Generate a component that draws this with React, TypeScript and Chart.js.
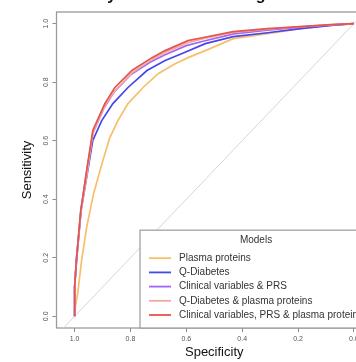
import React, { useEffect, useRef } from "react";
import { Chart, registerables } from "chart.js";

Chart.register(...registerables);

const chartTitle = "Any diabetes risk using all data";
const legendTitle = "Models";
const xAxisTitle = "Specificity";
const yAxisTitle = "Sensitivity";

const axisTicks = [0, 0.2, 0.4, 0.6, 0.8, 1.0];

const modelNames = [
  "Plasma proteins",
  "Q-Diabetes",
  "Clinical variables & PRS",
  "Q-Diabetes & plasma proteins",
  "Clinical variables, PRS & plasma proteins",
];
const modelColors = ["#F7BE6B", "#4646EE", "#A366F2", "#F4A89F", "#E2564F"];

const plasmaSpec = [1, 1, 0.989, 0.975, 0.957, 0.932, 0.899, 0.874, 0.845, 0.809, 0.755, 0.701, 0.64, 0.594, 0.532, 0.432, 0.309, 0.191, 0.08, 0];
const plasmaSens = [0, 0.02, 0.078, 0.191, 0.304, 0.42, 0.532, 0.611, 0.669, 0.727, 0.782, 0.829, 0.863, 0.884, 0.908, 0.949, 0.966, 0.983, 0.995, 1];

const qdSpec = [1, 1, 0.993, 0.977, 0.953, 0.935, 0.903, 0.863, 0.809, 0.741, 0.676, 0.615, 0.532, 0.432, 0.309, 0.191, 0.08, 0];
const qdSens = [0, 0.1, 0.191, 0.362, 0.498, 0.601, 0.669, 0.727, 0.782, 0.84, 0.874, 0.898, 0.932, 0.956, 0.969, 0.983, 0.994, 1];

const clinSpec = [1, 1, 0.994, 0.978, 0.956, 0.935, 0.895, 0.86, 0.8, 0.73, 0.68, 0.6, 0.54, 0.43, 0.31, 0.19, 0.08, 0];
const clinSens = [0, 0.1, 0.19, 0.36, 0.5, 0.625, 0.712, 0.765, 0.825, 0.868, 0.892, 0.925, 0.94, 0.965, 0.978, 0.988, 0.996, 1];

const qdPlasmaSpec = [1, 1, 0.994, 0.977, 0.955, 0.935, 0.892, 0.855, 0.795, 0.723, 0.676, 0.594, 0.543, 0.432, 0.309, 0.191, 0.08, 0];
const qdPlasmaSens = [0, 0.1, 0.19, 0.36, 0.49, 0.625, 0.72, 0.772, 0.832, 0.878, 0.902, 0.935, 0.948, 0.97, 0.981, 0.99, 0.997, 1];

const allSpec = [1, 1, 0.994, 0.978, 0.957, 0.935, 0.892, 0.856, 0.795, 0.723, 0.676, 0.594, 0.543, 0.432, 0.309, 0.191, 0.08, 0];
const allSens = [0, 0.1, 0.191, 0.362, 0.498, 0.635, 0.727, 0.782, 0.84, 0.884, 0.908, 0.942, 0.952, 0.973, 0.983, 0.99, 0.997, 1];

const chanceSpec = [1.2, -0.2];
const chanceSens = [-0.2, 1.2];

const modelSpecs = [plasmaSpec, qdSpec, clinSpec, qdPlasmaSpec, allSpec];
const modelSens = [plasmaSens, qdSens, clinSens, qdPlasmaSens, allSens];

const FONT = "'Liberation Sans', Arial, Helvetica, sans-serif";

const toPoints = (xs: number[], ys: number[]) => xs.map((x, i) => ({ x, y: ys[i] }));

const boxPlugin = {
  id: "boxPlugin",
  beforeDatasetsDraw(chart: any) {
    const { ctx, chartArea } = chart;
    ctx.save();
    ctx.strokeStyle = "#9a9a9a";
    ctx.lineWidth = 1.3;
    ctx.strokeRect(chartArea.left, chartArea.top, chartArea.right - chartArea.left, chartArea.bottom - chartArea.top);
    ctx.restore();
  },
};

const legendPlugin = {
  id: "legendBox",
  afterDatasetsDraw(chart: any) {
    const { ctx, chartArea } = chart;
    ctx.save();
    ctx.font = `10px ${FONT}`;
    let maxW = 0;
    modelNames.forEach((n) => (maxW = Math.max(maxW, ctx.measureText(n).width)));
    const boxW = 39 + maxW + 9;
    const right = chartArea.right;
    const bottom = chartArea.bottom;
    const left = right - boxW;
    const rowH = 14.2;
    const firstRow = bottom - 13 - rowH * (modelNames.length - 1);
    const titleY = firstRow - 18;
    const top = titleY - 10;
    ctx.fillStyle = "#ffffff";
    ctx.fillRect(left, top, boxW, bottom - top);
    ctx.strokeStyle = "#9a9a9a";
    ctx.lineWidth = 1.2;
    ctx.strokeRect(left, top, boxW, bottom - top);
    ctx.fillStyle = "#333";
    ctx.textBaseline = "middle";
    ctx.textAlign = "center";
    ctx.fillText(legendTitle, (left + right) / 2, titleY);
    ctx.textAlign = "left";
    modelNames.forEach((n, i) => {
      const y = firstRow + i * rowH;
      ctx.strokeStyle = modelColors[i];
      ctx.lineWidth = 1.8;
      ctx.beginPath();
      ctx.moveTo(left + 9, y);
      ctx.lineTo(left + 31, y);
      ctx.stroke();
      ctx.fillStyle = "#333";
      ctx.fillText(n, left + 39, y);
    });
    ctx.restore();
  },
};

const titlePlugin = {
  id: "cutTitle",
  afterDraw(chart: any) {
    const { ctx } = chart;
    ctx.save();
    ctx.font = `bold 16px ${FONT}`;
    ctx.fillStyle = "#111";
    ctx.textAlign = "left";
    ctx.textBaseline = "alphabetic";
    ctx.fillText(chartTitle, 86, 0);
    ctx.restore();
  },
};

export default function App() {
  const ref = useRef<HTMLCanvasElement | null>(null);
  useEffect(() => {
    if (!ref.current) return;
    const datasets: any[] = modelNames.map((name, i) => ({
      label: name,
      data: toPoints(modelSpecs[i], modelSens[i]),
      borderColor: modelColors[i],
      backgroundColor: modelColors[i],
      borderWidth: 1.7,
      pointRadius: 0,
      showLine: true,
      tension: 0,
      order: modelNames.length - i,
    }));
    datasets.push({
      label: "chance",
      data: toPoints(chanceSpec, chanceSens),
      borderColor: "#d6d6d6",
      borderWidth: 1,
      pointRadius: 0,
      showLine: true,
      order: 20,
    });
    const chart = new Chart(ref.current, {
      type: "scatter",
      data: { datasets },
      options: {
        animation: false,
        responsive: false,
        devicePixelRatio: 1,
        layout: { padding: { top: 12, right: 8, left: 0, bottom: 0 } },
        plugins: { legend: { display: false }, tooltip: { enabled: false } },
        scales: {
          x: {
            type: "linear",
            reverse: true,
            min: -0.065,
            max: 1.065,
            afterBuildTicks: (s: any) => {
              s.ticks = axisTicks.map((v) => ({ value: v }));
            },
            afterFit: (s: any) => {
              s.height = 34;
            },
            border: { display: false },
            grid: { drawOnChartArea: false, drawTicks: true, tickLength: 4, color: "#8a8a8a", lineWidth: 1 },
            ticks: {
              callback: (v: any) => Number(v).toFixed(1),
              font: { size: 7, family: FONT },
              color: "#555",
              padding: 3,
              maxRotation: 0,
              minRotation: 0,
            },
            title: { display: true, text: xAxisTitle, font: { size: 13, family: FONT }, color: "#111", padding: { top: 0, bottom: 1.5 } },
          },
          y: {
            type: "linear",
            min: -0.04,
            max: 1.04,
            afterBuildTicks: (s: any) => {
              s.ticks = axisTicks.map((v) => ({ value: v }));
            },
            afterFit: (s: any) => {
              s.width = 56.5;
            },
            border: { display: false },
            grid: { drawOnChartArea: false, drawTicks: true, tickLength: 4, color: "#8a8a8a", lineWidth: 1 },
            ticks: {
              callback: (v: any) => Number(v).toFixed(1),
              font: { size: 7, family: FONT },
              color: "#555",
              padding: 2,
              minRotation: 90,
              maxRotation: 90,
              crossAlign: "center",
            },
            title: { display: true, text: yAxisTitle, font: { size: 13, family: FONT }, color: "#111", padding: { top: 20, bottom: 0 } },
          },
        },
      },
      plugins: [boxPlugin, legendPlugin, titlePlugin],
    } as any);
    return () => chart.destroy();
  }, []);
  return (
    <div style={{ position: "fixed", top: 0, left: 0, width: 356, height: 362, overflow: "hidden", background: "#fff" }}>
      <canvas ref={ref} width={380} height={362} style={{ display: "block", width: 380, height: 362 }} />
    </div>
  );
}
